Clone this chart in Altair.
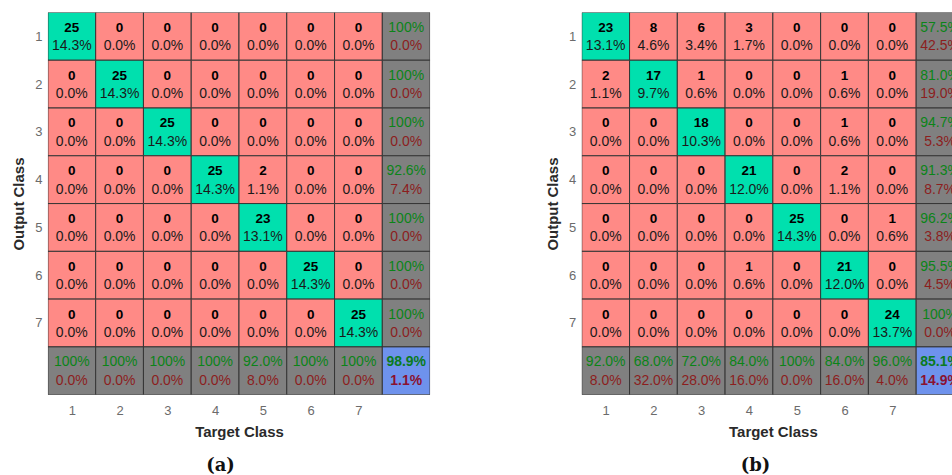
import altair as alt
import pandas as pd

# Class labels shared by both matrices
classes = [1, 2, 3, 4, 5, 6, 7]

# Confusion counts: rows = output class, columns = target class
counts_a = [
    [25, 0, 0, 0, 0, 0, 0],
    [0, 25, 0, 0, 0, 0, 0],
    [0, 0, 25, 0, 0, 0, 0],
    [0, 0, 0, 25, 2, 0, 0],
    [0, 0, 0, 0, 23, 0, 0],
    [0, 0, 0, 0, 0, 25, 0],
    [0, 0, 0, 0, 0, 0, 25],
]
counts_b = [
    [23, 8, 6, 3, 0, 0, 0],
    [2, 17, 1, 0, 0, 1, 0],
    [0, 0, 18, 0, 0, 1, 0],
    [0, 0, 0, 21, 0, 2, 0],
    [0, 0, 0, 0, 25, 0, 1],
    [0, 0, 0, 1, 0, 21, 0],
    [0, 0, 0, 0, 0, 0, 24],
]

KINDS = ["diag", "off", "summary", "total"]
FILLS = ["#00E0AE", "#FF8A86", "#808080", "#6E92EC"]
EDGES = [1, 1, 1.8, 1.8]
FONT = "Liberation Sans"


def pct(v):
    return "100%" if round(v, 1) >= 100 else f"{v:.1f}%"


def build_cells(counts):
    n = len(counts)
    total = sum(sum(r) for r in counts)
    rows = []
    for i in range(n):
        for j in range(n):
            v = counts[i][j]
            rows.append(dict(col=j + 1, row=i + 1, kind="diag" if i == j else "off",
                             top=str(v), bottom=pct(100 * v / total)))
    # precision per output class (right column)
    for i in range(n):
        acc = 100 * counts[i][i] / sum(counts[i])
        rows.append(dict(col=n + 1, row=i + 1, kind="summary", top=pct(acc), bottom=pct(100 - acc)))
    # recall per target class (bottom row)
    for j in range(n):
        colsum = sum(counts[i][j] for i in range(n))
        acc = 100 * counts[j][j] / colsum
        rows.append(dict(col=j + 1, row=n + 1, kind="summary", top=pct(acc), bottom=pct(100 - acc)))
    acc = 100 * sum(counts[i][i] for i in range(n)) / total
    rows.append(dict(col=n + 1, row=n + 1, kind="total", top=pct(acc), bottom=pct(100 - acc)))
    df = pd.DataFrame(rows)
    df["x0"] = df["col"] - 0.5
    df["x1"] = df["col"] + 0.5
    df["y0"] = df["row"] - 0.5
    df["y1"] = df["row"] + 0.5
    return df


def panel(counts, caption, width, xmax, caption_dx):
    df = build_cells(counts)
    xs = alt.Scale(domain=[0.5, xmax], nice=False, zero=False)
    ys = alt.Scale(domain=[0.5, 8.5], nice=False, zero=False, reverse=True)
    base = alt.Chart(df)

    x_axis = alt.Axis(values=classes, format="d", title="Target Class", titleX=191.5,
                      ticks=False, tickSize=0, domain=False, grid=False,
                      labelFont=FONT, labelFontSize=13, labelColor="#6b6b6b", labelPadding=10,
                      titleFont=FONT, titleFontSize=15, titleFontWeight="bold",
                      titleColor="#2a2a2a", titlePadding=7)
    y_axis = alt.Axis(values=classes, format="d", title="Output Class",
                      ticks=False, tickSize=0, domain=False, grid=False,
                      labelFont=FONT, labelFontSize=13, labelColor="#6b6b6b", labelPadding=6,
                      titleFont=FONT, titleFontSize=15, titleFontWeight="bold",
                      titleColor="#2a2a2a", titlePadding=8)

    # normal cells first, summary cells on top so their darker edges stay visible
    def cells(kinds):
        return base.transform_filter(
            alt.FieldOneOfPredicate(field="kind", oneOf=kinds)
        ).mark_rect(stroke="#353535", clip=True).encode(
            x=alt.X("x0:Q", scale=xs, axis=x_axis, title="Target Class"),
            x2="x1:Q",
            y=alt.Y("y0:Q", scale=ys, axis=y_axis, title="Output Class"),
            y2="y1:Q",
            color=alt.Color("kind:N", scale=alt.Scale(domain=KINDS, range=FILLS), legend=None),
            strokeWidth=alt.StrokeWidth("kind:N", scale=alt.Scale(domain=KINDS, range=EDGES),
                                        legend=None),
        )

    def txt(field, kinds, dy, color, weight, size):
        return base.transform_filter(
            alt.FieldOneOfPredicate(field="kind", oneOf=kinds)
        ).mark_text(font=FONT, fontSize=size, fontWeight=weight, color=color,
                    baseline="middle", dy=dy, clip=True).encode(
            x=alt.X("col:Q", scale=xs, axis=x_axis, title="Target Class"),
            y=alt.Y("row:Q", scale=ys, axis=y_axis, title="Output Class"),
            text=f"{field}:N",
        )

    layers = [
        cells(["diag", "off"]),
        cells(["summary", "total"]),
        txt("top", ["diag", "off"], -8.5, "#000000", "bold", 13.5),
        txt("bottom", ["diag", "off"], 10, "#1a1a1a", "normal", 14),
        txt("top", ["summary"], -8.5, "#0B8418", "normal", 14),
        txt("bottom", ["summary"], 10, "#8C1E1E", "normal", 14),
        txt("top", ["total"], -8.5, "#0A7A20", "bold", 14),
        txt("bottom", ["total"], 10, "#8A1230", "bold", 14),
    ]
    return alt.layer(*layers).properties(
        width=width, height=383,
        title=alt.TitleParams(caption, orient="bottom", anchor="middle", frame="group",
                              dx=caption_dx, offset=17, font="DejaVu Serif",
                              fontSize=18, fontWeight="bold", color="#111111"),
    )


left = panel(counts_a, "(a)", 383, 8.5, -18.5)
right = panel(counts_b, "(b)", 371, 8.25, -11.5)

chart = alt.hconcat(left, right, spacing=115).properties(
    padding={"left": 11, "top": 12, "right": 0, "bottom": 0}
).configure_view(stroke=None)

chart.save("out.html", embed_options={"renderer": "svg", "actions": False})
